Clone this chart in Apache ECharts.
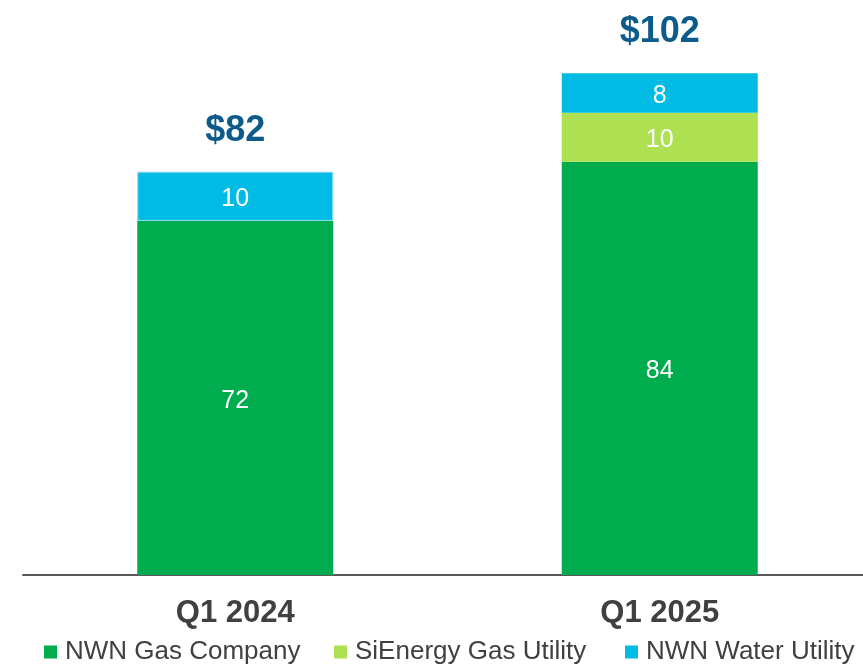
<!DOCTYPE html>
<html>
<head>
<meta charset="utf-8">
<script src="https://cdn.jsdelivr.net/npm/echarts@6/dist/echarts.min.js"></script>
<style>
  html, body { margin: 0; padding: 0; background: #fff; overflow: hidden; }
  #chart { width: 880px; height: 664px; }
</style>
</head>
<body>
<div id="chart"></div>
<script>
const categories = ["Q1 2024", "Q1 2025"];
const gasCompany = [72, 84];
const siEnergy = [0, 10];
const waterUtility = [10, 8];
const totals = ["$82", "$102"];
const seriesNames = ["NWN Gas Company", "SiEnergy Gas Utility", "NWN Water Utility"];
const colors = ["#00AC4E", "#ADE152", "#00BCE4"];

const font = "'Liberation Sans', Arial, sans-serif";

// container is a bit wider than the window so the axis runs off the right edge
const chart = echarts.init(document.getElementById("chart"));

function segLabel() {
  return {
    show: true,
    position: "inside",
    offset: [0, 3],
    color: "#fff",
    fontSize: 25,
    fontFamily: font,
    formatter: p => (p.value ? p.value : "")
  };
}

function legendAt(name, left) {
  return {
    data: [name],
    left: left,
    top: 639,
    padding: 0,
    itemWidth: 13,
    itemHeight: 13,
    icon: "rect",
    textStyle: {
      fontSize: 26,
      color: "#404040",
      fontFamily: font,
      padding: [0, 0, 0, 3]
    }
  };
}

const option = {
  animation: false,
  legend: [
    legendAt(seriesNames[0], 44),
    legendAt(seriesNames[1], 334),
    legendAt(seriesNames[2], 625)
  ],
  grid: {
    left: 23,
    width: 849,
    top: 34,
    bottom: 89,
    containLabel: false
  },
  xAxis: {
    type: "category",
    data: categories,
    axisLine: { lineStyle: { color: "#595959", width: 2 } },
    axisTick: { show: false },
    axisLabel: {
      margin: 23,
      fontSize: 31,
      fontWeight: "bold",
      color: "#404040",
      fontFamily: font
    }
  },
  yAxis: {
    type: "value",
    min: 0,
    max: 110,
    show: false,
    splitLine: { show: false }
  },
  series: [
    {
      name: seriesNames[0],
      type: "bar",
      stack: "total",
      barWidth: 196,
      color: colors[0],
      data: gasCompany,
      label: segLabel()
    },
    {
      name: seriesNames[1],
      type: "bar",
      stack: "total",
      barWidth: 196,
      color: colors[1],
      data: siEnergy,
      label: segLabel()
    },
    {
      name: seriesNames[2],
      type: "bar",
      stack: "total",
      barWidth: 196,
      color: colors[2],
      data: waterUtility.map((v, i) => i === 0
        ? { value: v, itemStyle: { borderColor: "#8ED8F0", borderWidth: 1 } }
        : v),
      label: segLabel()
    },
    {
      name: "Total",
      type: "bar",
      stack: "total",
      barWidth: 196,
      data: [0, 0],
      itemStyle: { color: "transparent" },
      label: {
        show: true,
        position: "top",
        distance: 23,
        fontSize: 36,
        fontWeight: "bold",
        color: "#0D5B8A",
        fontFamily: font,
        formatter: p => totals[p.dataIndex]
      }
    }
  ]
};

chart.setOption(option);
</script>
</body>
</html>
